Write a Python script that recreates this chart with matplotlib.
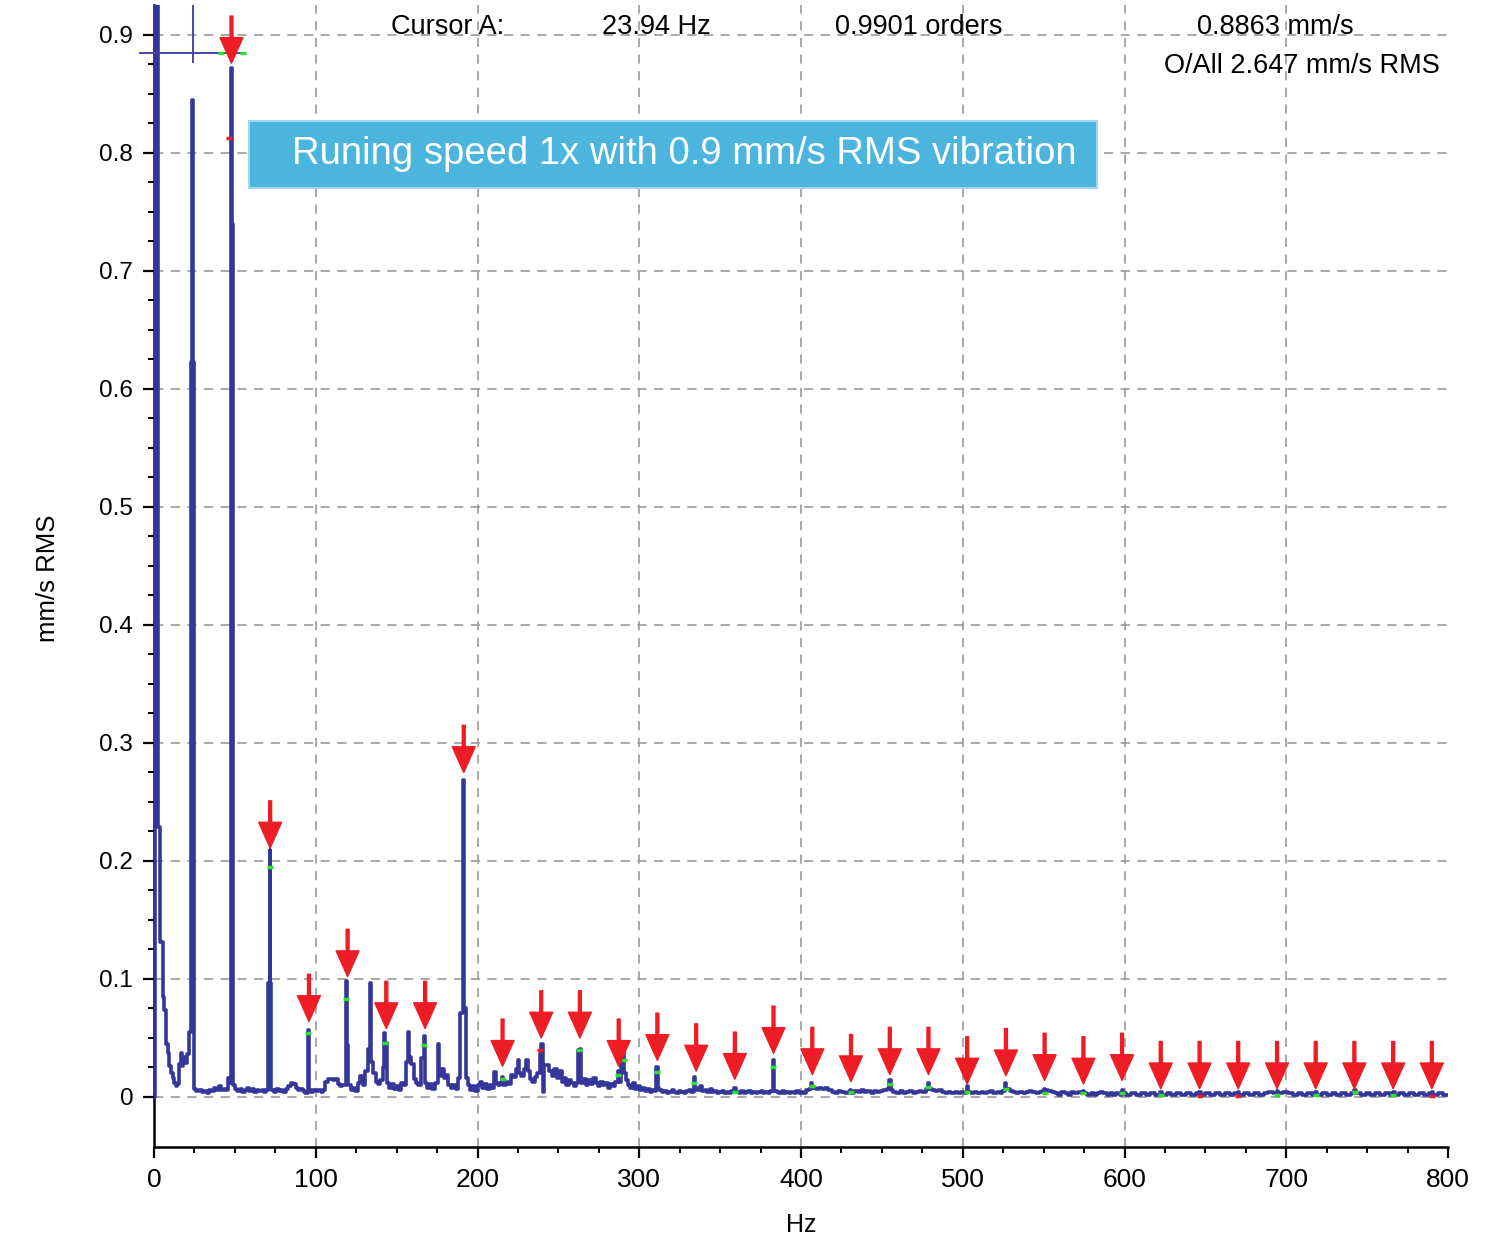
import matplotlib
matplotlib.use("Agg")
import matplotlib.pyplot as plt
from matplotlib.patches import Rectangle
from matplotlib.ticker import MultipleLocator, FixedLocator

plt.rcParams['font.family'] = ['Liberation Sans', 'DejaVu Sans']

# ---------------- data ----------------
# spectrum as step breakpoints (frequency Hz, amplitude mm/s RMS)
spec_0_50 = [
    (0.0, 0.0), (0.6, 1.30), (2.6, 0.229), (4.0, 0.131), (5.6, 0.085), (6.4, 0.074),
    (7.4, 0.045), (8.4, 0.037), (9.3, 0.026), (10.5, 0.020), (11.5, 0.016), (12.5, 0.012),
    (13.5, 0.009), (14.5, 0.011), (15.5, 0.028), (16.5, 0.037), (17.3, 0.026), (18.2, 0.034),
    (19.2, 0.029), (20.2, 0.036), (21.6, 0.055), (23.1, 0.623), (23.7, 0.845), (23.9, 0.623),
    (24.5, 0.007), (26.0, 0.005), (28.0, 0.006), (29.5, 0.004), (31.0, 0.005), (32.5, 0.003),
    (34.0, 0.006), (35.5, 0.005), (37.0, 0.008), (38.5, 0.006), (40.0, 0.009), (41.5, 0.006),
    (43.0, 0.007), (44.5, 0.006), (45.7, 0.016), (46.8, 0.012), (47.3, 0.740), (47.8, 0.872),
    (48.0, 0.740), (48.6, 0.010),
]
spec_50_200 = [
    (50.0, 0.007), (51.5, 0.005), (53.0, 0.007), (54.5, 0.004), (56.0, 0.006), (57.5, 0.008),
    (59.0, 0.005), (60.5, 0.007), (62.0, 0.004), (63.5, 0.006), (65.0, 0.005), (66.5, 0.006),
    (68.0, 0.004), (69.5, 0.006), (70.5, 0.097), (71.6, 0.209), (71.9, 0.097), (72.6, 0.006),
    (74.0, 0.004), (75.5, 0.007), (77.0, 0.005), (78.5, 0.006), (80.0, 0.004), (81.5, 0.007),
    (83.0, 0.009), (84.5, 0.012), (86.0, 0.011), (87.5, 0.008), (89.0, 0.006), (90.5, 0.007),
    (92.0, 0.005), (93.5, 0.003), (95.0, 0.057), (95.6, 0.006), (97.0, 0.004), (98.5, 0.006),
    (100.0, 0.005), (101.5, 0.006), (103.0, 0.004), (104.5, 0.006), (106.0, 0.013), (107.5, 0.015),
    (109.0, 0.015), (110.5, 0.014), (112.0, 0.015), (113.5, 0.011), (115.0, 0.009), (116.5, 0.010),
    (118.4, 0.098), (119.4, 0.044), (120.2, 0.010), (121.5, 0.006), (123.0, 0.008), (124.5, 0.005),
    (126.0, 0.012), (127.5, 0.018), (129.0, 0.010), (130.5, 0.022), (132.0, 0.041), (133.8, 0.097),
    (134.4, 0.030), (135.5, 0.020), (137.0, 0.013), (138.5, 0.011), (140.0, 0.014), (141.6, 0.025),
    (142.4, 0.054), (143.0, 0.046), (144.0, 0.012), (145.5, 0.008), (147.0, 0.011), (148.5, 0.007),
    (150.0, 0.009), (151.5, 0.006), (153.0, 0.012), (154.5, 0.010), (156.0, 0.030), (157.2, 0.055),
    (157.8, 0.034), (159.0, 0.028), (160.5, 0.015), (162.0, 0.012), (163.5, 0.010), (165.0, 0.033),
    (166.9, 0.052), (167.7, 0.012), (169.0, 0.008), (170.5, 0.011), (172.0, 0.007), (173.5, 0.012),
    (175.5, 0.045), (176.3, 0.018), (177.5, 0.024), (179.0, 0.016), (180.5, 0.019), (182.0, 0.010),
    (183.5, 0.008), (185.0, 0.010), (186.5, 0.007), (188.0, 0.016), (189.3, 0.071), (191.2, 0.269),
    (191.7, 0.075), (193.0, 0.016), (194.0, 0.010), (195.5, 0.006), (197.0, 0.009), (198.5, 0.005),
]
spec_200_400 = [
    (200.0, 0.010), (201.5, 0.013), (203.0, 0.008), (204.5, 0.011), (206.0, 0.007), (207.5, 0.010),
    (209.0, 0.008), (210.5, 0.021), (211.3, 0.012), (212.5, 0.010), (214.0, 0.012), (215.2, 0.017),
    (216.0, 0.010), (217.5, 0.013), (219.0, 0.011), (220.5, 0.019), (222.0, 0.017), (223.5, 0.024),
    (224.8, 0.031), (225.6, 0.020), (227.0, 0.018), (228.5, 0.024), (230.0, 0.031), (231.0, 0.022),
    (232.5, 0.015), (234.0, 0.013), (235.5, 0.017), (237.0, 0.020), (238.5, 0.036), (239.5, 0.045),
    (240.2, 0.004), (241.2, 0.027), (244.5, 0.022), (246.0, 0.018), (247.5, 0.024), (249.0, 0.016),
    (250.5, 0.022), (252.0, 0.013), (253.5, 0.016), (255.0, 0.010), (256.5, 0.014), (258.0, 0.012),
    (259.5, 0.009), (261.0, 0.012), (262.4, 0.040), (263.6, 0.041), (264.2, 0.012), (265.5, 0.015),
    (267.0, 0.010), (268.5, 0.014), (270.0, 0.011), (271.5, 0.016), (273.0, 0.012), (274.5, 0.009),
    (276.0, 0.013), (277.5, 0.010), (279.0, 0.012), (280.5, 0.008), (282.0, 0.011), (283.5, 0.009),
    (285.0, 0.013), (286.8, 0.022), (287.6, 0.013), (289.0, 0.033), (290.0, 0.045), (290.8, 0.020),
    (291.5, 0.014), (293.0, 0.010), (294.5, 0.008), (296.0, 0.012), (297.5, 0.007), (299.0, 0.009),
    (300.5, 0.006), (302.0, 0.008), (303.5, 0.005), (305.0, 0.007), (306.5, 0.004), (308.0, 0.006),
    (309.5, 0.005), (310.6, 0.025), (311.4, 0.008), (312.5, 0.006), (314.0, 0.004), (315.5, 0.005),
    (317.0, 0.003), (318.5, 0.004), (320.0, 0.006), (321.5, 0.004), (323.0, 0.003), (324.5, 0.005),
    (326.0, 0.004), (327.5, 0.003), (329.0, 0.005), (330.5, 0.006), (332.0, 0.004), (333.8, 0.017),
    (334.6, 0.008), (336.0, 0.006), (337.5, 0.009), (339.0, 0.005), (340.5, 0.006), (342.0, 0.004),
    (343.5, 0.007), (345.0, 0.004), (346.5, 0.005), (348.0, 0.003), (349.5, 0.004), (351.0, 0.005),
    (352.5, 0.003), (354.0, 0.004), (355.5, 0.003), (357.0, 0.005), (358.6, 0.008), (359.8, 0.004),
    (361.5, 0.003), (363.0, 0.005), (364.5, 0.003), (366.0, 0.004), (367.5, 0.005), (369.0, 0.003),
    (370.5, 0.004), (372.0, 0.003), (373.5, 0.004), (375.0, 0.005), (376.5, 0.003), (378.0, 0.004),
    (379.5, 0.003), (381.0, 0.005), (382.5, 0.031), (383.3, 0.005), (385.0, 0.004), (386.5, 0.003),
    (388.0, 0.005), (389.5, 0.003), (391.0, 0.004), (392.5, 0.003), (394.0, 0.004), (395.5, 0.003),
    (397.0, 0.005), (398.5, 0.003),
]
spec_400_800 = [
    (400.0, 0.004), (401.5, 0.003), (403.0, 0.006), (405.0, 0.007), (406.2, 0.012), (407.0, 0.008),
    (409.0, 0.007), (411.0, 0.008), (413.0, 0.007), (415.0, 0.008), (417.0, 0.006), (419.0, 0.004),
    (421.0, 0.003), (423.0, 0.005), (425.0, 0.004), (427.0, 0.003), (429.0, 0.004), (430.4, 0.006),
    (431.2, 0.003), (433.0, 0.005), (435.0, 0.004), (437.0, 0.006), (439.0, 0.004), (441.0, 0.005),
    (443.0, 0.003), (445.0, 0.005), (447.0, 0.004), (449.0, 0.005), (451.0, 0.006), (453.0, 0.007),
    (454.6, 0.014), (455.4, 0.006), (457.0, 0.004), (459.0, 0.003), (461.0, 0.005), (463.0, 0.003),
    (465.0, 0.004), (467.0, 0.005), (469.0, 0.003), (471.0, 0.004), (473.0, 0.005), (475.0, 0.004),
    (477.0, 0.007), (478.5, 0.012), (479.3, 0.007), (481.0, 0.006), (483.0, 0.005), (485.0, 0.006),
    (487.0, 0.004), (489.0, 0.003), (491.0, 0.004), (493.0, 0.003), (495.0, 0.004), (497.0, 0.003),
    (499.0, 0.004), (501.0, 0.003), (502.4, 0.009), (503.2, 0.004), (505.0, 0.003), (507.0, 0.004),
    (509.0, 0.003), (511.0, 0.004), (513.0, 0.003), (515.0, 0.004), (517.0, 0.005), (519.0, 0.003),
    (521.0, 0.004), (523.0, 0.003), (524.5, 0.005), (526.2, 0.012), (527.0, 0.007), (529.0, 0.005),
    (531.0, 0.004), (533.0, 0.003), (535.0, 0.004), (537.0, 0.003), (539.0, 0.004), (541.0, 0.005),
    (543.0, 0.004), (545.0, 0.003), (547.0, 0.004), (549.0, 0.005), (550.3, 0.007), (551.1, 0.006),
    (553.0, 0.005), (555.0, 0.004), (557.0, 0.003), (559.0, 0.002), (561.0, 0.004), (563.0, 0.003),
    (565.0, 0.002), (567.0, 0.004), (569.0, 0.003), (571.0, 0.004), (573.0, 0.003), (574.3, 0.005),
    (575.1, 0.003), (577.0, 0.002), (579.0, 0.003), (581.0, 0.002), (583.0, 0.003), (585.0, 0.004),
    (587.0, 0.003), (589.0, 0.002), (591.0, 0.003), (593.0, 0.002), (595.0, 0.003), (597.0, 0.002),
    (598.2, 0.006), (599.0, 0.003), (601.0, 0.002), (604.0, 0.003), (607.0, 0.002), (610.0, 0.003),
    (613.0, 0.002), (616.0, 0.003), (619.0, 0.002), (622.0, 0.004), (623.0, 0.002), (626.0, 0.003),
    (629.0, 0.002), (632.0, 0.003), (635.0, 0.002), (638.0, 0.003), (641.0, 0.002), (644.0, 0.003),
    (646.0, 0.004), (647.0, 0.002), (650.0, 0.003), (653.0, 0.002), (656.0, 0.003), (659.0, 0.002),
    (662.0, 0.003), (665.0, 0.002), (668.0, 0.003), (670.0, 0.004), (671.0, 0.002), (674.0, 0.003),
    (677.0, 0.002), (680.0, 0.003), (683.0, 0.002), (686.0, 0.003), (689.0, 0.004), (692.0, 0.003),
    (694.0, 0.005), (695.0, 0.003), (698.0, 0.004), (701.0, 0.003), (704.0, 0.002), (707.0, 0.003),
    (710.0, 0.002), (713.0, 0.003), (716.0, 0.002), (718.0, 0.004), (719.0, 0.002), (722.0, 0.003),
    (725.0, 0.002), (728.0, 0.003), (731.0, 0.002), (734.0, 0.003), (737.0, 0.002), (740.0, 0.003),
    (742.0, 0.006), (743.0, 0.003), (746.0, 0.002), (749.0, 0.003), (752.0, 0.002), (755.0, 0.003),
    (758.0, 0.002), (761.0, 0.003), (764.0, 0.002), (766.0, 0.004), (767.0, 0.002), (770.0, 0.003),
    (773.0, 0.002), (776.0, 0.003), (779.0, 0.002), (782.0, 0.003), (785.0, 0.002), (788.0, 0.003),
    (790.0, 0.004), (791.0, 0.002), (794.0, 0.003), (797.0, 0.002), (800.0, 0.002),
]

# harmonic arrows (frequency of each running-speed harmonic, peak value where the arrow points)
arrow_f = [47.9, 71.8, 95.8, 119.7, 143.6, 167.6, 191.5, 215.5, 239.4, 263.3, 287.3,
           311.2, 335.2, 359.1, 383.0, 407.0, 430.9, 454.9, 478.8, 502.7, 526.7, 550.6,
           574.6, 598.5, 622.4, 646.4, 670.3, 694.3, 718.2, 742.1, 766.1, 790.0]
arrow_tip = [0.876, 0.211, 0.064, 0.102, 0.058, 0.058, 0.275, 0.026, 0.050, 0.050, 0.026,
             0.031, 0.022, 0.015, 0.037, 0.019, 0.013, 0.019, 0.019, 0.011, 0.018, 0.014,
             0.011, 0.014, 0.007, 0.007, 0.007, 0.007, 0.007, 0.007, 0.007, 0.007]

# small peak markers
green_f = [41.4, 55.0, 71.7, 95.3, 118.8, 142.6, 167.2, 215.5, 263.0, 287.1, 290.3, 311.0,
           334.1, 359.0, 382.8, 406.5, 430.8, 454.9, 478.8, 502.7, 526.5, 550.6, 574.5,
           598.5, 622.4, 694.3, 718.2, 742.3, 766.1]
green_a = [0.8847, 0.8847, 0.195, 0.054, 0.083, 0.046, 0.044, 0.015, 0.040, 0.019, 0.031, 0.021,
           0.012, 0.0045, 0.025, 0.009, 0.0045, 0.011, 0.0085, 0.0045, 0.0065, 0.0035, 0.0035,
           0.0035, 0.0015, 0.0015, 0.0015, 0.004, 0.0015]
red_f = [46.6, 238.7, 646.4, 670.3, 790.0]
red_a = [0.813, 0.040, 0.0012, 0.0012, 0.0012]

# cursor
cursor_hz = 23.94
cursor_amp = 0.8847

x_ticks = [0, 100, 200, 300, 400, 500, 600, 700, 800]
x_tick_labels = ['0', '100', '200', '300', '400', '500', '600', '700', '800']
y_ticks = [0.0, 0.1, 0.2, 0.3, 0.4, 0.5, 0.6, 0.7, 0.8, 0.9]
y_tick_labels = ['0', '0.1', '0.2', '0.3', '0.4', '0.5', '0.6', '0.7', '0.8', '0.9']

header_texts = ['Cursor A:', '23.94 Hz', '0.9901 orders', '0.8863 mm/s']
overall_text = 'O/All 2.647 mm/s RMS'
banner_text = 'Runing speed 1x with 0.9 mm/s RMS vibration'

# ---------------- drawing ----------------
BLUE = '#34369a'
RED = '#ee1c25'
GREEN = '#2ee02e'
GRID = '#9a9a9a'

W, H = 1490, 1250
fig = plt.figure(figsize=(W / 100, H / 100), dpi=100)
ax = fig.add_axes([154 / W, 1 - 1147 / H, 1294 / W, 1142 / H])

spec = spec_0_50 + spec_50_200 + spec_200_400 + spec_400_800
freqs = [p[0] for p in spec]
amps = [p[1] for p in spec]
ax.step(freqs, amps, where='post', color=BLUE, lw=2.6, zorder=3)

ax.set_xlim(0, 800)
ax.set_ylim(-0.0424, 0.9254)

for s in ('top', 'right'):
    ax.spines[s].set_visible(False)
for s in ('left', 'bottom'):
    ax.spines[s].set_linewidth(1.8)

ax.set_xticks(x_ticks)
ax.set_xticklabels(x_tick_labels)
ax.set_yticks(y_ticks)
ax.set_yticklabels(y_tick_labels)
ax.xaxis.set_minor_locator(MultipleLocator(25))
ax.yaxis.set_minor_locator(FixedLocator([v for v in [i * 0.025 for i in range(1, 37)]
                                         if abs(v * 10 - round(v * 10)) > 1e-6]))
ax.tick_params(axis='both', which='major', length=8, width=1.6, direction='out', pad=7)
ax.tick_params(axis='both', which='minor', length=4.5, width=1.4, direction='out')
ax.tick_params(axis='x', which='major', labelsize=19)
ax.tick_params(axis='y', which='major', labelsize=17.5)

ax.grid(True, which='major', color=GRID, linestyle=(0, (5.5, 4.5)), linewidth=1.2, zorder=1)
gl = ax.xaxis.get_gridlines()
gl[0].set_visible(False)
gl[-1].set_visible(False)
ax.set_axisbelow(True)

ax.set_xlabel('Hz', fontsize=18)
ax.xaxis.label.set_va('center')
ax.xaxis.set_label_coords(0.5, (1147 - 1225) / 1142)
ax.set_ylabel('mm/s RMS', fontsize=18.5)
ax.yaxis.label.set_va('center')
ax.yaxis.set_label_coords((48 - 154) / 1294, (1147 - 578) / 1142)

# cursor crosshair
ax.plot([-8.5, 56.5], [cursor_amp, cursor_amp], color='#4646a8', lw=1.4, clip_on=False, zorder=4)
ax.plot([cursor_hz, cursor_hz], [0.877, 0.93], color='#4646a8', lw=1.4, zorder=4)

# peak markers
ax.plot(green_f, green_a, ls='none', marker='_', color=GREEN, ms=5, mew=2.5, zorder=5)
ax.plot(red_f, red_a, ls='none', marker='_', color=RED, ms=5, mew=2.5, zorder=5)

# harmonic arrows
for f, tip in zip(arrow_f, arrow_tip):
    ax.annotate('', xy=(f, tip), xytext=(f, tip + 0.040),
                arrowprops=dict(facecolor=RED, edgecolor=RED, width=2.1,
                                headwidth=16.5, headlength=18.5, shrink=0.0),
                zorder=6, annotation_clip=False)

# banner
bx0, bx1 = (249 - 154) / 1294, (1097 - 154) / 1294
by0, by1 = (1147 - 188) / 1142, (1147 - 121) / 1142
ax.add_patch(Rectangle((bx0, by0), bx1 - bx0, by1 - by0, transform=ax.transAxes,
                       facecolor='#4cb5dd', edgecolor='#9ed8ef', lw=1.5, zorder=7))
ax.text((292 - 154) / 1294, (1147 - 154) / 1142, banner_text, transform=ax.transAxes,
        color='white', fontsize=27.5, ha='left', va='center', zorder=8)

# header text
header_x = [391, 602, 835, 1197]
for x, t in zip(header_x, header_texts):
    fig.text(x / W, 1 - 27 / H, t, fontsize=19.5, ha='left', va='center', color='black')
fig.text(1440 / W, 1 - 66 / H, overall_text, fontsize=19.5, ha='right', va='center', color='black')

fig.savefig('out.png', dpi=100)
